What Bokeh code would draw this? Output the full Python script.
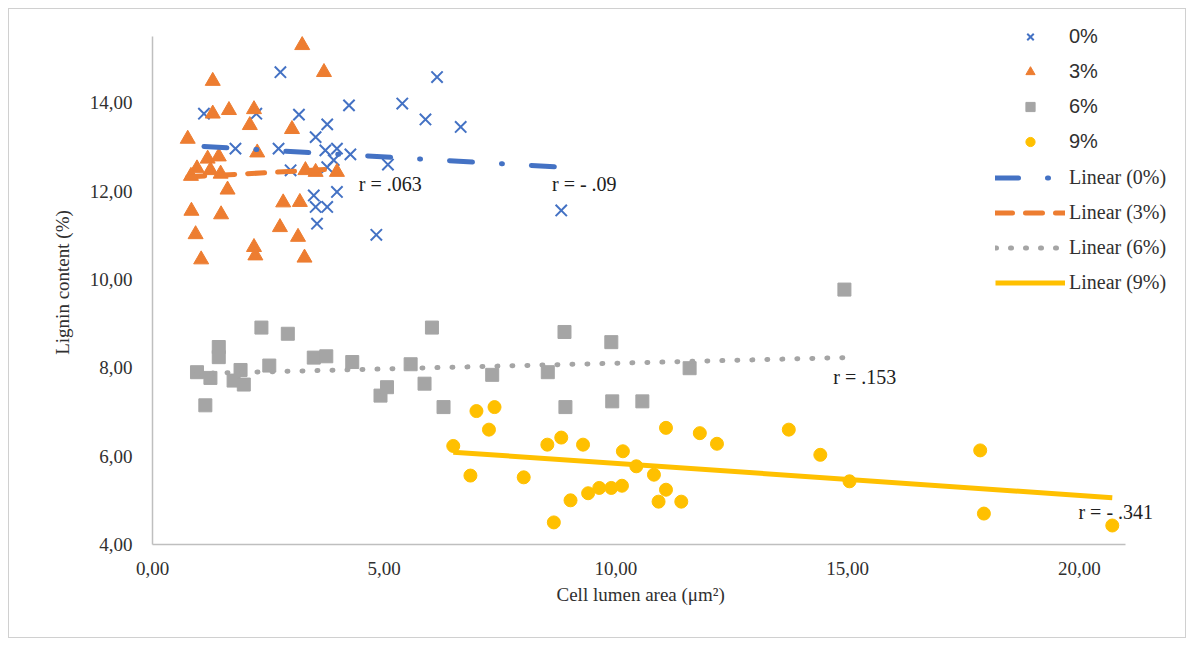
from bokeh.plotting import figure
from bokeh.models import Range1d, FixedTicker, Legend, LegendItem, Label, Title
from bokeh.embed import file_html
from bokeh.resources import INLINE

# ---- data ----
x_0 = [1.11, 2.24, 3.16, 2.76, 4.24, 3.77, 3.52, 1.79, 2.72, 3.73, 3.98, 4.27, 3.91, 3.77,
       2.98, 5.08, 6.14, 5.39, 5.89, 6.65, 3.48, 3.98, 3.52, 3.77, 3.55, 4.83, 8.82]
y_0 = [13.75, 13.75, 13.73, 14.69, 13.94, 13.51, 13.22, 12.96, 12.96, 12.92, 12.96, 12.83, 12.70, 12.54,
       12.47, 12.60, 14.58, 13.98, 13.62, 13.45, 11.90, 11.98, 11.64, 11.64, 11.26, 11.01, 11.56]

x_3 = [3.23, 3.70, 1.30, 1.30, 1.65, 2.19, 2.10, 3.01, 0.76, 2.26, 1.19, 1.43, 0.96, 1.25, 1.47, 0.83,
       3.30, 3.52, 3.98, 1.62, 2.82, 3.18, 0.84, 1.48, 2.75, 3.14, 0.93, 2.19, 2.22, 1.05, 3.28]
y_3 = [15.30, 14.69, 14.49, 13.75, 13.83, 13.85, 13.49, 13.40, 13.18, 12.87, 12.73, 12.78, 12.51, 12.47, 12.39, 12.34,
       12.47, 12.43, 12.43, 12.03, 11.74, 11.75, 11.55, 11.47, 11.18, 10.96, 11.02, 10.73, 10.54, 10.45, 10.49]

x_6 = [2.35, 2.92, 1.43, 1.43, 0.96, 1.25, 1.90, 1.75, 1.97, 2.52, 3.48, 3.75, 4.31, 1.14, 4.92,
       5.06, 5.57, 5.87, 6.03, 6.28, 14.93, 8.89, 9.90, 7.33, 8.53, 11.59, 8.91, 9.92, 10.57]
y_6 = [8.91, 8.77, 8.47, 8.24, 7.90, 7.77, 7.95, 7.71, 7.62, 8.05, 8.23, 8.26, 8.13, 7.15, 7.37,
       7.56, 8.08, 7.64, 8.91, 7.11, 9.77, 8.81, 8.58, 7.84, 7.90, 7.99, 7.11, 7.24, 7.24]

x_9 = [6.99, 7.38, 7.26, 6.49, 6.86, 8.01, 8.52, 8.82, 9.29, 10.15, 10.44, 10.82, 11.08, 11.81, 12.18,
       13.73, 14.41, 15.04, 8.66, 9.02, 9.40, 9.64, 9.90, 10.13, 11.08, 10.92, 11.41, 17.86, 17.94, 20.71]
y_9 = [7.02, 7.11, 6.60, 6.23, 5.56, 5.52, 6.26, 6.42, 6.26, 6.11, 5.77, 5.58, 6.64, 6.52, 6.28,
       6.60, 6.03, 5.43, 4.50, 5.00, 5.16, 5.28, 5.28, 5.33, 5.24, 4.97, 4.97, 6.13, 4.70, 4.43]

# linear trend values at the smallest and largest x of each series
trend_0 = [13.01, 12.54]
trend_3 = [12.32, 12.50]
trend_6 = [7.87, 8.23]
trend_9 = [6.09, 5.06]

series_names = ["0%", "3%", "6%", "9%"]
trend_names = ["Linear (0%)", "Linear (3%)", "Linear (6%)", "Linear (9%)"]
r_texts = ["r = .063", "r = - .09", "r = .153", "r = - .341"]

x_ticks = [0, 5, 10, 15, 20]
x_tick_labels = ["0,00", "5,00", "10,00", "15,00", "20,00"]
y_ticks = [4, 6, 8, 10, 12, 14]
y_tick_labels = ["4,00", "6,00", "8,00", "10,00", "12,00", "14,00"]
x_axis_bounds = (0, 21)
y_axis_bounds = (4, 15.5)
x_title = "Cell lumen area (\u03bcm\u00b2)"
y_title = "Lignin content (%)"

# ---- figure ----
SERIF = "Liberation Serif"
SANS = "Liberation Sans"
TXT = "#303030"

# frame spans a bit wider/taller than the drawn axes so the legend (which overlaps
# the plot area's corner in the original) is not clipped
p = figure(width=1178, height=630, output_backend="svg", toolbar_location=None,
           x_range=Range1d(0, 22.29), y_range=Range1d(4, 15.86),
           min_border_left=143, min_border_right=2, min_border_top=11, min_border_bottom=95)
p.styles = {"border": "1px solid #d0d0d0", "margin": "8px"}
p.outline_line_color = None
p.xgrid.visible = False
p.ygrid.visible = False
p.background_fill_color = "white"

for ax in (p.xaxis[0], p.yaxis[0]):
    ax.axis_line_color = "#bfbfbf"
    ax.axis_line_width = 1.5
    ax.major_tick_line_color = None
    ax.minor_tick_line_color = None
    ax.major_tick_out = 0
    ax.major_label_text_font = SERIF
    ax.major_label_text_font_size = "19px"
    ax.major_label_text_color = TXT
    ax.axis_label_text_font = SERIF
    ax.axis_label_text_font_size = "19px"
    ax.axis_label_text_font_style = "normal"
    ax.axis_label_text_color = TXT

p.xaxis.bounds = x_axis_bounds
p.yaxis.bounds = y_axis_bounds
p.xaxis.ticker = FixedTicker(ticks=x_ticks)
p.xaxis.major_label_overrides = dict(zip(x_ticks, x_tick_labels))
p.yaxis.ticker = FixedTicker(ticks=y_ticks)
p.yaxis.major_label_overrides = dict(zip(y_ticks, y_tick_labels))
p.yaxis.axis_label = y_title
p.xaxis.major_label_standoff = 17
p.yaxis.major_label_standoff = 20
p.yaxis.axis_label_standoff = 14

# x-axis title, centred under the drawn axis (0..21) rather than the wider frame
p.add_layout(Title(text=x_title, align="left", offset=404, standoff=9,
                   text_font=SERIF, text_font_size="19px", text_font_style="normal",
                   text_color=TXT), "below")

BLUE, ORANGE, GRAY, GOLD = "#4472C4", "#ED7D31", "#A5A5A5", "#FFC000"

m0 = p.scatter(x_0, y_0, marker="x", size=16, line_color=BLUE, line_width=2)
m3 = p.scatter(x_3, y_3, marker="triangle", size=15, fill_color=ORANGE, line_color=ORANGE)
m6 = p.scatter(x_6, y_6, marker="square", size=13, fill_color=GRAY, line_color=GRAY)
m9 = p.scatter(x_9, y_9, marker="circle", size=13, fill_color=GOLD, line_color=GOLD)

l0 = p.line([min(x_0), max(x_0)], trend_0, line_color=BLUE, line_width=5,
            line_dash="23 29 1 29", line_cap="round")
l3 = p.line([min(x_3), max(x_3)], trend_3, line_color=ORANGE, line_width=5,
            line_dash="17 13", line_cap="round")
l6 = p.line([min(x_6), max(x_6)], trend_6, line_color=GRAY, line_width=5,
            line_dash="1 14", line_cap="round")
l9 = p.line([min(x_9), max(x_9)], trend_9, line_color=GOLD, line_width=5)

# r labels
r_x = [4.45, 8.62, 14.69, 19.98]
r_y = [12.17, 12.17, 7.79, 4.73]
for t, lx, ly in zip(r_texts, r_x, r_y):
    p.add_layout(Label(x=lx, y=ly, text=t, text_font=SERIF, text_font_size="20px",
                       text_color="#202020", text_baseline="middle", text_align="left"))

def make_legend(items, font, loc):
    return Legend(items=items, location=loc, orientation="vertical",
                  glyph_width=70, glyph_height=23, label_height=23, spacing=12,
                  label_standoff=4, padding=0, margin=0,
                  border_line_alpha=0, background_fill_alpha=0,
                  label_text_font=font, label_text_font_size="20px", label_text_color=TXT)

leg1 = make_legend([LegendItem(label=n, renderers=[r]) for n, r in zip(series_names, [m0, m3, m6, m9])],
                   SANS, (843, 391.5))
leg2 = make_legend([LegendItem(label=n, renderers=[r]) for n, r in zip(trend_names, [l0, l3, l6, l9])],
                   SERIF, (843, 249.6))
p.add_layout(leg1)
p.add_layout(leg2)

open("out.html", "w").write(file_html(p, INLINE))
